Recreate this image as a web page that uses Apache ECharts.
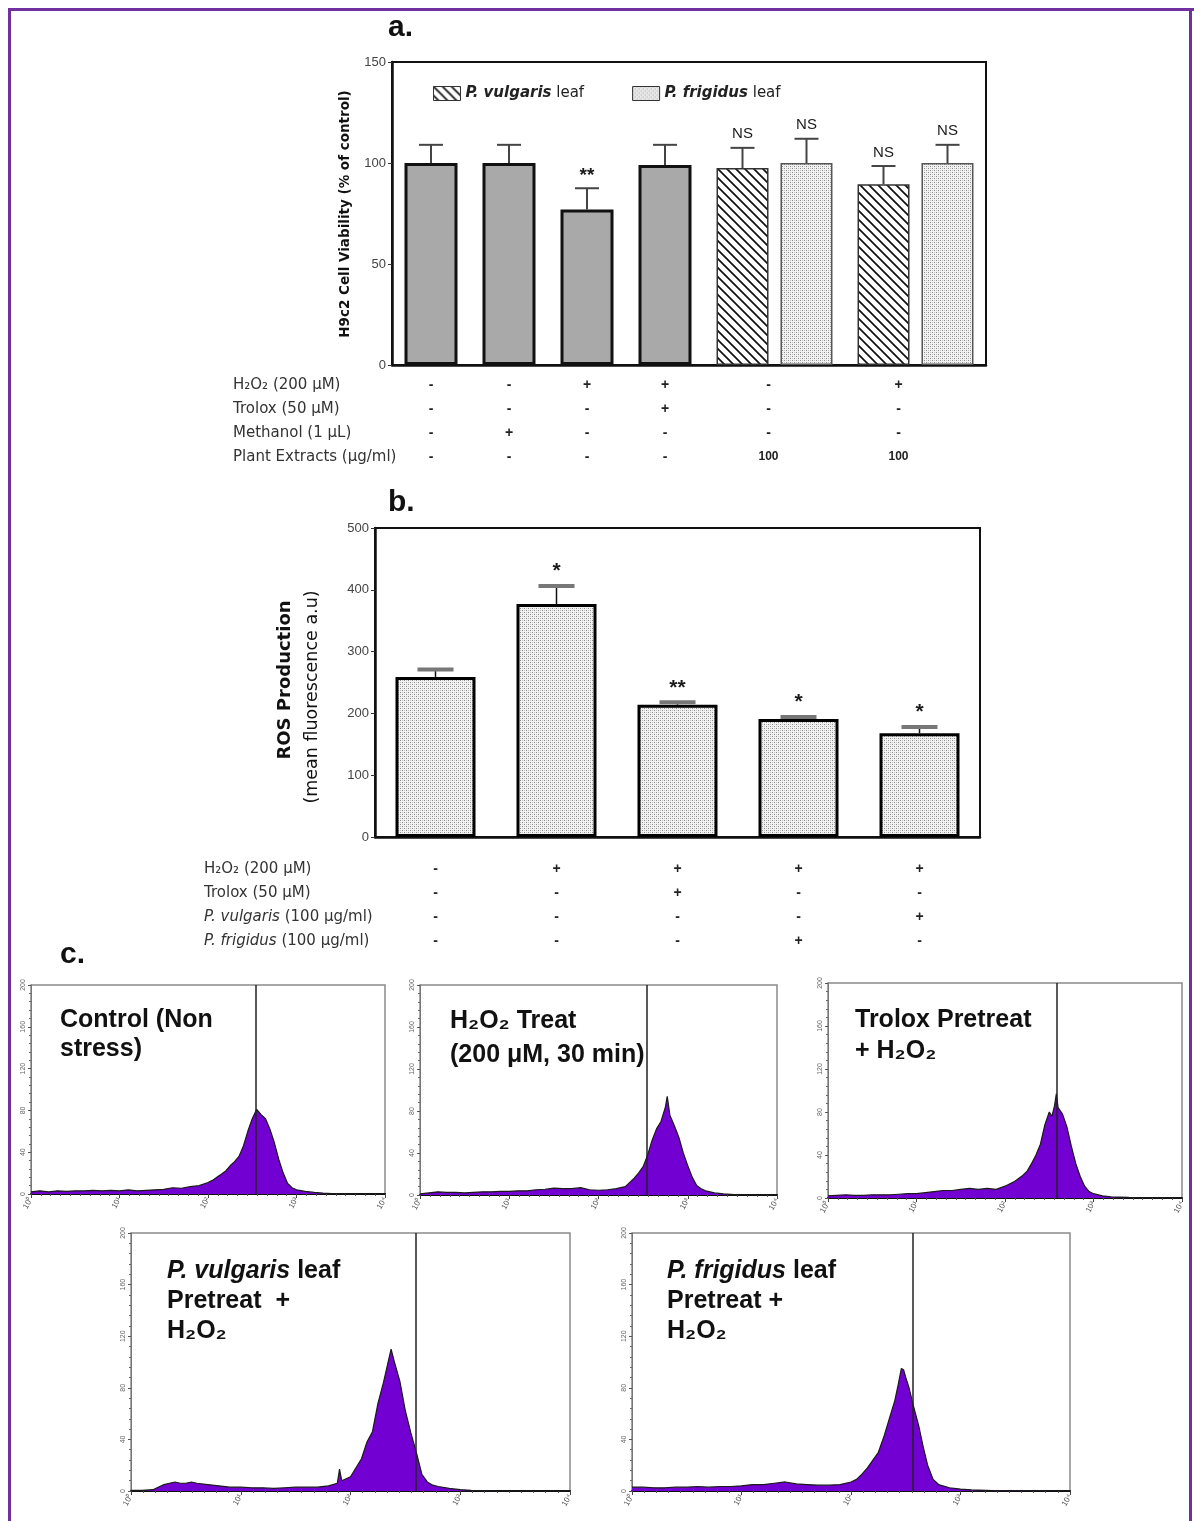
<!DOCTYPE html>
<html><head><meta charset="utf-8">
<script src="https://cdn.jsdelivr.net/npm/echarts@6/dist/echarts.min.js"></script>
<style>html,body{margin:0;padding:0;background:#fff}#c{width:1194px;height:1521px}</style>
</head><body><div id="c"></div>
<script>
// ---------- Panel a data ----------
const catsA1 = ['Control', 'Methanol', 'H2O2', 'Trolox + H2O2'];
const valsA1 = [100, 100, 77, 99];
const errA1 = [9, 9, 10.5, 10];
const sigA1 = ['', '', '**', ''];
const catsA2 = ['Extract', 'Extract + H2O2'];
const vulgarisA = [97.5, 89.5];
const vulgarisErrA = [10, 9];
const sigVulgarisA = ['NS', 'NS'];
const frigidusA = [100, 100];
const frigidusErrA = [12, 9];
const sigFrigidusA = ['NS', 'NS'];
const tblA_H2O2 = ['-', '-', '+', '+', '-', '+'];
const tblA_Trolox = ['-', '-', '-', '+', '-', '-'];
const tblA_Methanol = ['-', '+', '-', '-', '-', '-'];
const tblA_Extract = ['-', '-', '-', '-', '100', '100'];
const yTicksA = [0, 50, 100, 150];

// ---------- Panel b data ----------
const catsB = ['Control', 'H2O2', 'Trolox + H2O2', 'P. frigidus + H2O2', 'P. vulgaris + H2O2'];
const rosB = [259, 377, 214, 191, 168];
const rosErrB = [12, 29, 4, 3, 10];
const sigB = ['', '*', '**', '*', '*'];
const tblB_H2O2 = ['-', '+', '+', '+', '+'];
const tblB_Trolox = ['-', '-', '+', '-', '-'];
const tblB_Vulgaris = ['-', '-', '-', '-', '+'];
const tblB_Frigidus = ['-', '-', '-', '+', '-'];

// ---------- Panel c data: [log10 fluorescence, count] ----------
const histControl = [[0,2],[0.1,3],[0.2,2],[0.3,3],[0.4,2.5],[0.5,3],[0.6,3],[0.7,3.5],[0.8,3],[0.9,3.5],[1.0,3],[1.1,4],[1.2,3],[1.3,3.5],[1.4,4],[1.5,4.5],[1.6,6],[1.7,5.5],[1.8,7],[1.9,8],[2.0,11],[2.05,13],[2.1,16],[2.15,19],[2.2,22],[2.25,27],[2.3,31],[2.35,36],[2.4,46],[2.45,60],[2.5,72],[2.55,81],[2.6,76],[2.65,72],[2.7,62],[2.75,49],[2.8,33],[2.85,20],[2.9,10],[2.95,6],[3.0,4],[3.1,2.5],[3.2,1.5],[3.3,0.8],[3.4,0.3],[3.6,0],[4.0,0]];
const histH2O2 = [[0,1],[0.1,2],[0.2,3],[0.3,2.5],[0.4,2.5],[0.5,2],[0.6,2.5],[0.7,3],[0.8,3],[0.9,3.5],[1.0,3.5],[1.1,4],[1.2,4],[1.3,5],[1.4,5.5],[1.5,6.5],[1.6,6],[1.7,6],[1.8,7],[1.9,5],[2.0,4.5],[2.1,5],[2.2,6],[2.3,8],[2.35,12],[2.4,16],[2.45,21],[2.5,27],[2.55,38],[2.6,52],[2.65,63],[2.7,70],[2.75,84],[2.77,94],[2.8,76],[2.85,66],[2.9,55],[2.95,40],[3.0,28],[3.05,17],[3.1,9],[3.15,6],[3.2,4],[3.3,2],[3.4,1],[3.6,0],[4,0]];
const histTrolox = [[0,2],[0.1,2.5],[0.2,3],[0.3,2.5],[0.4,2.5],[0.5,3],[0.6,3],[0.7,3],[0.8,3.5],[0.9,4],[1.0,4],[1.1,5],[1.2,6],[1.3,7],[1.4,7],[1.5,8],[1.6,9],[1.7,8],[1.8,9],[1.9,8],[2.0,11],[2.05,13],[2.1,15],[2.15,18],[2.2,21],[2.25,25],[2.3,32],[2.35,40],[2.4,50],[2.45,68],[2.5,80],[2.53,76],[2.56,86],[2.58,97],[2.6,84],[2.65,78],[2.7,66],[2.75,48],[2.8,32],[2.85,20],[2.9,11],[2.95,6],[3.0,4],[3.1,2],[3.2,1],[3.4,0.5],[4,0.3]];
const histVulgaris = [[0,0.5],[0.1,0.5],[0.2,1],[0.3,5],[0.35,6],[0.4,7],[0.45,6],[0.5,6],[0.55,7],[0.6,6],[0.7,5],[0.8,4],[0.9,3],[1.0,3],[1.1,2.5],[1.2,2.5],[1.3,2],[1.4,2.5],[1.5,3],[1.6,3],[1.7,3],[1.8,4],[1.88,6],[1.9,17],[1.92,8],[2.0,11],[2.05,18],[2.1,25],[2.15,38],[2.2,46],[2.25,68],[2.3,84],[2.34,99],[2.37,110],[2.4,100],[2.45,85],[2.5,62],[2.55,45],[2.6,30],[2.65,13],[2.7,7],[2.75,4.5],[2.8,3.5],[2.9,2],[3.0,1],[3.1,0.5],[3.3,0],[4,0]];
const histFrigidus = [[0,3],[0.1,3],[0.2,2.5],[0.3,2.5],[0.4,3],[0.5,3],[0.6,3.5],[0.7,3],[0.8,3.5],[0.9,3.5],[1.0,4],[1.1,5],[1.2,5],[1.3,6],[1.4,7],[1.5,5.5],[1.6,5],[1.7,4.5],[1.8,4.5],[1.9,5],[2.0,7],[2.05,9],[2.1,13],[2.15,18],[2.2,24],[2.25,30],[2.3,42],[2.35,56],[2.4,70],[2.43,82],[2.46,95],[2.48,94],[2.5,88],[2.53,80],[2.57,66],[2.62,50],[2.66,34],[2.7,20],[2.75,9],[2.8,5],[2.9,2.5],[3.0,1.5],[3.1,0.8],[3.3,0.3],[4,0.2]];
const histMarkers = [2.54, 2.54, 2.58, 2.59, 2.56];
const histTicksX = ['10⁰', '10¹', '10²', '10³', '10⁴'];

// ---------- patterns ----------
function makeHatch() {
  const c = document.createElement('canvas'); c.width = 9; c.height = 9;
  const g = c.getContext('2d');
  g.fillStyle = '#fff'; g.fillRect(0, 0, 9, 9);
  g.strokeStyle = '#111'; g.lineWidth = 1.7;
  g.beginPath();
  g.moveTo(-1, -1); g.lineTo(10, 10);
  g.moveTo(-5.5, 3.5); g.lineTo(5.5, 14.5);
  g.moveTo(3.5, -5.5); g.lineTo(14.5, 5.5);
  g.stroke();
  return c;
}
function makeDots() {
  const c = document.createElement('canvas'); c.width = 4; c.height = 4;
  const g = c.getContext('2d');
  g.fillStyle = '#f2f2f2'; g.fillRect(0, 0, 4, 4);
  g.fillStyle = '#8c8c8c'; g.fillRect(0, 0, 1, 1); g.fillRect(2, 2, 1, 1);
  g.fillStyle = '#c4c4c4'; g.fillRect(2, 0, 1, 1); g.fillRect(0, 2, 1, 1);
  return c;
}
const hatch = { image: makeHatch(), repeat: 'repeat' };
const dots = { image: makeDots(), repeat: 'repeat' };

const FONT = 'Liberation Sans, Arial, sans-serif';
const WIDE = 'DejaVu Sans, sans-serif';

function errRender(opt) {
  return function (params, api) {
    const idx = api.value(0), v = api.value(1), e = api.value(2);
    const base = api.coord([idx, v]);
    const top = api.coord([idx, v + e]);
    const x = base[0] + opt.offset;
    const ch = [
      { type: 'line', shape: { x1: x, y1: base[1], x2: x, y2: top[1] }, style: { stroke: opt.stroke, lineWidth: opt.lw } },
      { type: 'line', shape: { x1: x - opt.capW / 2, y1: top[1], x2: x + opt.capW / 2, y2: top[1] }, style: { stroke: opt.capStroke, lineWidth: opt.capLw } }
    ];
    const s = opt.sig[params.dataIndex];
    if (s) ch.push({ type: 'text', style: { text: s, x: x, y: top[1] - opt.gap, align: 'center', verticalAlign: 'bottom', font: (s.indexOf('*') >= 0 ? opt.starFont : opt.font), fill: '#1a1a1a' } });
    return { type: 'group', children: ch };
  };
}

const rowsA = [tblA_H2O2, tblA_Trolox, tblA_Methanol, tblA_Extract];
const rowsB = [tblB_H2O2, tblB_Trolox, tblB_Vulgaris, tblB_Frigidus];
// shifts: leftward nudge (px) of each table column relative to the category centre
const tableLabel = (rows, off, margin, shifts) => {
  const rich = {};
  const n = rows[0].length;
  for (let i = 0; i < n; i++) {
    const pr = (shifts && shifts[i]) ? shifts[i] * 2 : 0;
    rich['c' + i] = { fontSize: 14, fontWeight: 'bold', color: '#222', lineHeight: 24, fontFamily: FONT, padding: [0, pr, 0, 0] };
    rich['n' + i] = { fontSize: 12, fontWeight: 'bold', color: '#222', lineHeight: 24, fontFamily: FONT, padding: [0, pr, 0, 0] };
  }
  return {
    interval: 0, margin: margin, fontSize: 14, fontWeight: 'bold', color: '#222', lineHeight: 24, fontFamily: FONT, rich: rich,
    formatter: (v, i) => rows.map(r => {
      const s = r[i + off];
      return '{' + (s.length > 1 ? 'n' : 'c') + (i + off) + '|' + s + '}';
    }).join('\n')
  };
};
const shiftsA = [0, 0, 0, 0, 6, 17];

const histData = [histControl, histH2O2, histTrolox, histVulgaris, histFrigidus];
const histGrids = [
  { left: 31, top: 985, width: 354, height: 209 },
  { left: 420, top: 985, width: 357, height: 210 },
  { left: 828, top: 983, width: 354, height: 215 },
  { left: 131, top: 1233, width: 439, height: 258 },
  { left: 632, top: 1233, width: 438, height: 258 }
];

const grids = [
  { left: 392, top: 62, width: 594, height: 303, show: true, borderColor: '#111', borderWidth: 2 },
  { left: 392, top: 62, width: 312, height: 303 },
  { left: 704, top: 62, width: 282, height: 303 },
  { left: 375, top: 528, width: 605, height: 309, show: true, borderColor: '#111', borderWidth: 2 }
].concat(histGrids.map(g => Object.assign({ show: true, borderColor: '#8a8a8a', borderWidth: 1.5 }, g)));

const xAxes = [
  { gridIndex: 0, type: 'category', data: [''], axisLine: { lineStyle: { color: '#111', width: 2.5 } }, axisTick: { show: false }, axisLabel: { show: false } },
  { gridIndex: 1, type: 'category', data: catsA1, axisLine: { show: false }, axisTick: { show: false }, axisLabel: tableLabel(rowsA, 0, 8, shiftsA) },
  { gridIndex: 2, type: 'category', data: catsA2, axisLine: { show: false }, axisTick: { show: false }, axisLabel: tableLabel(rowsA, 4, 8, shiftsA) },
  { gridIndex: 3, type: 'category', data: catsB, axisLine: { lineStyle: { color: '#111', width: 2.5 } }, axisTick: { show: false }, axisLabel: tableLabel(rowsB, 0, 20) }
];
const yAxes = [
  { gridIndex: 0, type: 'value', min: yTicksA[0], max: yTicksA[yTicksA.length - 1], interval: 50, splitLine: { show: false },
    axisLine: { show: true, lineStyle: { color: '#111', width: 2.5 } }, axisTick: { show: true, length: 4, lineStyle: { color: '#333' } },
    axisLabel: { fontSize: 13, color: '#444', margin: 6, fontFamily: FONT } },
  { gridIndex: 1, type: 'value', min: 0, max: 150, show: false },
  { gridIndex: 2, type: 'value', min: 0, max: 150, show: false },
  { gridIndex: 3, type: 'value', min: 0, max: 500, interval: 100, splitLine: { show: false },
    axisLine: { show: true, lineStyle: { color: '#111', width: 2.5 } }, axisTick: { show: true, length: 4, lineStyle: { color: '#333' } },
    axisLabel: { fontSize: 13, color: '#444', margin: 6, fontFamily: FONT } }
];
histGrids.forEach((g, k) => {
  xAxes.push({ gridIndex: 4 + k, type: 'value', min: 0, max: 4, interval: 1, splitLine: { show: false },
    axisLine: { lineStyle: { color: '#111', width: 2 } }, axisTick: { show: true, length: 4, lineStyle: { color: '#444' } },
    minorTick: { show: true, splitNumber: 9, length: 2, lineStyle: { color: '#555' } },
    axisLabel: { formatter: v => histTicksX[v], fontSize: 8, color: '#555', rotate: 60, margin: 4, fontFamily: FONT } });
  yAxes.push({ gridIndex: 4 + k, type: 'value', min: 0, max: 200, interval: 40, splitLine: { show: false },
    axisLine: { show: true, lineStyle: { color: '#777', width: 1 } }, axisTick: { show: true, length: 3, lineStyle: { color: '#555' } },
    minorTick: { show: true, splitNumber: 5, length: 2, lineStyle: { color: '#666' } },
    axisLabel: { fontSize: 7, color: '#666', rotate: 90, margin: 4, fontFamily: FONT } });
});

const series = [
  { name: 'control', type: 'bar', xAxisIndex: 1, yAxisIndex: 1, data: valsA1, barWidth: 53,
    itemStyle: { color: '#a9a9a9', borderColor: '#111', borderWidth: 3 } },
  { name: 'P. vulgaris leaf', type: 'bar', xAxisIndex: 2, yAxisIndex: 2, data: vulgarisA, barWidth: 52, barGap: '23%',
    itemStyle: { color: hatch, borderColor: '#333', borderWidth: 1.5 } },
  { name: 'P. frigidus leaf', type: 'bar', xAxisIndex: 2, yAxisIndex: 2, data: frigidusA, barWidth: 52, barGap: '23%',
    itemStyle: { color: dots, borderColor: '#555', borderWidth: 1.5 } },
  { type: 'custom', xAxisIndex: 1, yAxisIndex: 1, clip: false, z: 5, encode: { x: 0, y: 1 },
    data: valsA1.map((v, i) => [i, v, errA1[i]]),
    renderItem: errRender({ offset: 0, capW: 24, stroke: '#444', capStroke: '#444', lw: 2, capLw: 2, sig: sigA1, gap: 3, font: '15px ' + FONT, starFont: 'bold 19px ' + FONT }) },
  { type: 'custom', xAxisIndex: 2, yAxisIndex: 2, clip: false, z: 5, encode: { x: 0, y: 1 },
    data: vulgarisA.map((v, i) => [i, v, vulgarisErrA[i]]),
    renderItem: errRender({ offset: -32, capW: 24, stroke: '#444', capStroke: '#444', lw: 2, capLw: 2, sig: sigVulgarisA, gap: 6, font: '15px ' + FONT, starFont: 'bold 19px ' + FONT }) },
  { type: 'custom', xAxisIndex: 2, yAxisIndex: 2, clip: false, z: 5, encode: { x: 0, y: 1 },
    data: frigidusA.map((v, i) => [i, v, frigidusErrA[i]]),
    renderItem: errRender({ offset: 32, capW: 24, stroke: '#444', capStroke: '#444', lw: 2, capLw: 2, sig: sigFrigidusA, gap: 6, font: '15px ' + FONT, starFont: 'bold 19px ' + FONT }) },
  { name: 'ROS', type: 'bar', xAxisIndex: 3, yAxisIndex: 3, data: rosB, barWidth: 80,
    itemStyle: { color: dots, borderColor: '#000', borderWidth: 3 } },
  { type: 'custom', xAxisIndex: 3, yAxisIndex: 3, clip: false, z: 5, encode: { x: 0, y: 1 },
    data: rosB.map((v, i) => [i, v, rosErrB[i]]),
    renderItem: errRender({ offset: 0, capW: 36, stroke: '#111', capStroke: '#777', lw: 1.5, capLw: 4, sig: sigB, gap: 4, font: '15px ' + FONT, starFont: 'bold 21px ' + FONT }) }
];
histData.forEach((d, k) => {
  series.push({ type: 'line', xAxisIndex: 4 + k, yAxisIndex: 4 + k, data: d, showSymbol: false, symbol: 'none',
    lineStyle: { color: '#1a1a1a', width: 1.2 }, areaStyle: { color: '#7300d2', opacity: 1 },
    markLine: { silent: true, symbol: 'none', label: { show: false }, lineStyle: { color: '#222', width: 1.5, type: 'solid' },
      data: [{ xAxis: histMarkers[k] }] } });
});

const rich = { i: { fontStyle: 'italic', fontFamily: WIDE, fontSize: 15, fill: '#333' } };
const txt = (x, y, text, extra) => ({ type: 'text', x: x, y: y, style: Object.assign({ text: text, fill: '#111', font: '14px ' + FONT }, extra || {}) });
const boldRich = { i: { fontStyle: 'italic', fontWeight: 'bold', fontSize: 25, fontFamily: FONT, fill: '#111' } };

const graphic = [
  { type: 'rect', shape: { x: 8, y: 8, width: 3, height: 1513 }, style: { fill: '#7030a0' } },
  { type: 'rect', shape: { x: 8, y: 8, width: 1186, height: 3 }, style: { fill: '#7030a0' } },
  { type: 'rect', shape: { x: 1189, y: 8, width: 3, height: 1513 }, style: { fill: '#7030a0' } },
  txt(388, 28, 'a.', { font: 'bold 30px ' + FONT, verticalAlign: 'middle' }),
  txt(388, 503, 'b.', { font: 'bold 30px ' + FONT, verticalAlign: 'middle' }),
  txt(60, 955, 'c.', { font: 'bold 30px ' + FONT, verticalAlign: 'middle' }),
  { type: 'text', x: 345, y: 214, rotation: Math.PI / 2, style: { text: 'H9c2 Cell Viability (% of control)', font: 'bold 13.5px ' + WIDE, fill: '#111', align: 'center', verticalAlign: 'middle' } },
  { type: 'text', x: 285, y: 680, rotation: Math.PI / 2, style: { text: 'ROS Production', font: 'bold 18px ' + WIDE, fill: '#111', align: 'center', verticalAlign: 'middle' } },
  { type: 'text', x: 312, y: 697, rotation: Math.PI / 2, style: { text: '(mean fluorescence a.u)', font: '17.5px ' + WIDE, fill: '#111', align: 'center', verticalAlign: 'middle' } },
  txt(233, 373, 'H₂O₂ (200 μM)\nTrolox (50 μM)\nMethanol (1 μL)\nPlant Extracts (μg/ml)', { font: '15px ' + WIDE, lineHeight: 24, fill: '#333' }),
  txt(204, 857, 'H₂O₂ (200 μM)\nTrolox (50 μM)\n{i|P. vulgaris} (100 μg/ml)\n{i|P. frigidus} (100 μg/ml)', { font: '15px ' + WIDE, lineHeight: 24, fill: '#333', rich: rich }),
  txt(60, 1006, 'Control (Non\nstress)', { font: 'bold 25px ' + FONT, lineHeight: 29 }),
  txt(450, 1004, 'H₂O₂ Treat\n(200 μM, 30 min)', { font: 'bold 25px ' + FONT, lineHeight: 34 }),
  txt(855, 1005, 'Trolox Pretreat\n+ H₂O₂', { font: 'bold 25px ' + FONT, lineHeight: 31 }),
  txt(167, 1256, '{i|P. vulgaris} leaf\nPretreat  +\nH₂O₂', { font: 'bold 25px ' + FONT, lineHeight: 30, rich: boldRich }),
  txt(667, 1256, '{i|P. frigidus} leaf\nPretreat +\nH₂O₂', { font: 'bold 25px ' + FONT, lineHeight: 30, rich: boldRich })
];

const chart = echarts.init(document.getElementById('c'), null, { renderer: 'canvas', width: 1194, height: 1521 });
chart.setOption({
  animation: false,
  backgroundColor: '#fff',
  textStyle: { fontFamily: FONT },
  legend: { data: ['P. vulgaris leaf', 'P. frigidus leaf'], left: 428, top: 81, itemWidth: 27, itemHeight: 14, itemGap: 48, selectedMode: false,
    icon: 'rect', itemStyle: { borderWidth: 1, borderColor: '#333' },
    formatter: n => '{i|' + n.replace(' leaf', '') + '} leaf',
    textStyle: { fontSize: 15, color: '#222', fontFamily: WIDE, rich: { i: { fontStyle: 'italic', fontWeight: 'bold', fontSize: 15, fontFamily: WIDE } } } },
  grid: grids, xAxis: xAxes, yAxis: yAxes, series: series, graphic: graphic
});
</script></body></html>
